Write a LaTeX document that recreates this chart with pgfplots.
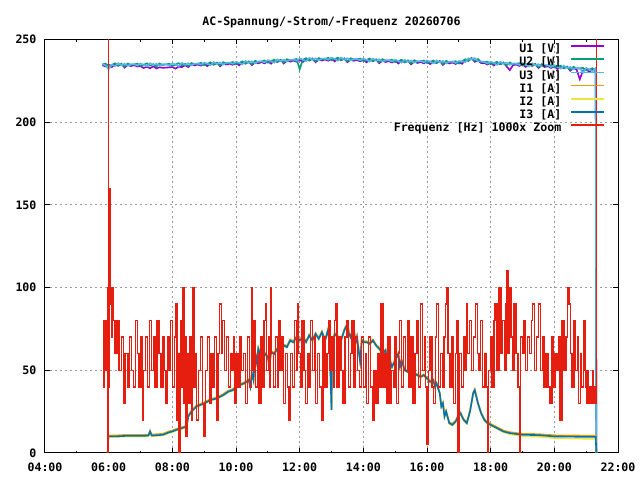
\documentclass[border=0pt]{standalone}
\usepackage{fontspec}
\setmainfont{DejaVu Sans Mono}
\setmonofont{DejaVu Sans Mono}
\usepackage{pgfplots}
\usepackage{pgfplotstable}
\pgfplotsset{compat=1.18}
\definecolor{cU1}{HTML}{9400D3}
\definecolor{cU2}{HTML}{009E73}
\definecolor{cU3}{HTML}{56B4E9}
\definecolor{cI1}{HTML}{E69F00}
\definecolor{cI2}{HTML}{F0E442}
\definecolor{cI3}{HTML}{0072B2}
\definecolor{cF}{HTML}{E51E10}
\newcommand{\fsz}{\fontsize{8.7}{10}\selectfont\bfseries}

\pgfplotstableread{
t U1 U2 U3
5.8 234.5 234.9 235.1
5.9 233.7 235.4 234.3
6.0 234.8 234.0 232.0
6.1 233.3 234.7 234.8
6.2 235.0 235.6 233.8
6.3 234.1 234.2 235.7
6.4 235.3 235.1 234.5
6.5 233.0 233.6 235.3
6.6 234.7 235.5 234.1
6.7 233.9 234.6 235.0
6.8 234.5 234.9 235.1
6.9 233.7 235.4 234.3
7.0 233.8 234.0 235.5
7.1 232.8 234.7 234.8
7.2 233.5 235.6 233.8
7.3 232.6 234.2 235.7
7.4 233.8 235.1 234.5
7.5 232.5 233.6 235.3
7.6 233.2 235.5 234.1
7.7 232.9 234.6 235.0
7.8 233.0 234.9 235.1
7.9 233.2 235.4 234.3
8.0 233.3 234.0 235.5
8.1 232.4 234.8 234.9
8.2 233.6 235.7 233.9
8.3 233.3 234.4 235.9
8.4 234.5 235.3 234.7
8.5 233.3 233.9 235.6
8.6 235.0 235.8 234.4
8.7 234.3 235.0 235.4
8.8 234.9 235.3 235.5
8.9 234.2 235.9 234.8
9.0 235.3 234.5 236.0
9.1 233.9 235.3 235.4
9.2 235.6 236.2 234.4
9.3 234.8 234.9 236.4
9.4 236.0 235.8 235.2
9.5 233.8 234.4 236.1
9.6 235.5 236.3 234.9
9.7 234.8 235.5 235.9
9.8 235.4 235.8 236.0
9.9 234.7 236.4 235.3
10.0 235.8 235.0 236.5
10.1 234.4 235.8 235.9
10.2 236.2 236.8 235.0
10.3 235.4 235.5 237.0
10.4 236.7 236.5 235.9
10.5 234.5 235.1 236.8
10.6 236.3 237.1 235.7
10.7 235.6 236.3 236.7
10.8 236.3 236.7 236.9
10.9 235.6 237.3 236.2
11.0 236.8 236.0 237.5
11.1 235.4 236.8 236.9
11.2 237.2 237.8 236.0
11.3 236.4 236.5 238.0
11.4 237.7 237.5 236.9
11.5 235.5 236.1 237.8
11.6 237.3 238.1 236.7
11.7 236.6 237.3 237.7
11.8 237.3 237.7 237.9
11.9 236.6 238.3 237.2
12.0 237.8 232.0 238.5
12.1 236.4 237.8 237.9
12.2 238.1 238.7 236.9
12.3 237.3 237.4 238.9
12.4 238.5 238.3 237.7
12.5 236.3 236.9 238.6
12.6 238.0 238.8 237.4
12.7 237.3 237.9 238.4
12.8 237.9 238.3 238.5
12.9 237.2 238.9 237.8
13.0 238.3 237.5 239.0
13.1 236.8 238.2 238.3
13.2 238.4 239.0 237.2
13.3 237.5 237.6 239.1
13.4 238.6 238.4 237.8
13.5 236.3 236.9 238.6
13.6 237.9 238.7 237.3
13.7 237.1 237.8 238.2
13.8 237.6 238.0 238.2
13.9 236.8 238.5 237.4
14.0 237.8 237.0 238.5
14.1 236.2 237.6 237.7
14.2 237.9 238.5 236.7
14.3 236.9 237.0 238.5
14.4 238.0 237.8 237.2
14.5 235.7 236.3 238.0
14.6 237.3 238.1 236.7
14.7 236.4 237.1 237.5
14.8 236.9 237.3 237.5
14.9 236.1 237.8 236.7
15.0 237.1 236.3 237.8
15.1 235.5 236.9 237.0
15.2 237.2 237.8 236.0
15.3 236.2 236.3 237.8
15.4 237.3 237.1 236.5
15.5 235.0 235.6 237.3
15.6 236.7 237.5 236.1
15.7 235.8 236.5 236.9
15.8 236.4 236.8 237.0
15.9 235.6 237.3 236.2
16.0 236.6 235.8 237.3
16.1 235.1 236.5 236.6
16.2 236.7 237.3 235.5
16.3 235.8 235.9 237.4
16.4 237.0 236.8 236.2
16.5 234.7 235.3 237.0
16.6 236.3 237.1 235.7
16.7 235.5 236.2 236.6
16.8 236.1 236.5 236.7
16.9 235.2 236.9 235.8
17.0 236.3 235.5 237.0
17.1 235.3 236.7 236.8
17.2 237.5 238.1 236.3
17.3 237.1 237.2 238.7
17.4 238.8 238.6 238.0
17.5 236.5 237.1 238.8
17.6 237.4 238.2 236.8
17.7 235.7 236.4 236.8
17.8 235.8 236.2 236.4
17.9 234.9 236.6 235.5
18.0 235.9 235.1 236.6
18.1 234.3 235.7 235.8
18.2 235.9 236.5 234.7
18.3 235.0 235.1 236.6
18.4 236.1 235.9 235.3
18.5 233.7 234.3 236.0
18.6 231.5 236.1 234.7
18.7 234.4 235.1 235.5
18.8 234.9 235.3 235.5
18.9 234.0 235.7 234.6
19.0 235.0 234.2 235.7
19.1 233.4 234.8 234.9
19.2 235.0 235.6 233.8
19.3 234.0 234.1 235.6
19.4 235.2 235.0 234.4
19.5 232.8 233.4 235.1
19.6 234.3 235.1 233.7
19.7 233.4 234.1 234.5
19.8 233.8 234.2 234.4
19.9 232.8 234.5 233.4
20.0 233.8 233.0 234.5
20.1 232.1 233.5 233.6
20.2 233.6 234.2 232.4
20.3 232.6 232.7 234.2
20.4 233.6 233.4 232.8
20.5 231.1 231.7 233.4
20.6 232.7 233.5 232.1
20.7 231.7 232.4 232.8
20.8 226.0 232.5 232.7
20.9 231.2 232.9 230.0
21.0 232.1 231.3 232.8
21.1 230.4 231.8 231.9
21.2 232.0 232.6 230.8
21.3 230.7 231.2 232.7
21.32 0 0 0
}\volt

\pgfplotstableread{
t I1 I2 I3
5.97 0 0 0
5.99 10.6 9.6 10.0
6.2 10.6 9.6 10.0
6.5 10.9 9.9 10.3
7.0 10.9 9.9 10.3
7.25 11.1 10.1 10.5
7.3 13.4 12.6 13.0
7.35 11.1 10.1 10.5
7.7 11.6 10.6 11.0
7.9 13.1 12.1 12.5
8.0 13.6 12.6 13.0
8.2 15.1 14.1 14.5
8.3 15.6 14.6 15.0
8.45 16.6 15.6 16.0
8.5 22.6 21.6 22.0
8.6 25.6 24.6 25.0
8.75 28.6 27.6 28.0
9.0 30.6 29.6 30.0
9.2 32.6 31.6 32.0
9.4 33.6 32.6 33.0
9.6 35.6 34.6 35.0
9.75 37.6 36.6 37.0
9.9 38.6 37.6 38.0
10.0 40.6 39.6 40.0
10.1 41.6 40.6 41.0
10.25 42.6 41.6 42.0
10.4 44.6 43.6 44.0
10.45 41.0 39.6 40.0
10.5 48.6 47.6 48.0
10.55 44.6 43.6 44.0
10.6 60.6 59.6 60.0
10.65 55.6 54.6 55.0
10.7 63.6 62.6 63.0
10.8 57.6 56.6 57.0
10.9 60.6 59.6 60.0
11.0 58.6 57.6 58.0
11.05 53.0 51.6 52.0
11.1 61.6 60.6 61.0
11.2 60.6 59.6 60.0
11.3 63.6 62.6 63.0
11.4 64.6 63.6 64.0
11.5 65.6 64.6 65.0
11.6 64.6 63.6 64.0
11.7 68.6 67.6 68.0
11.8 67.6 66.6 67.0
11.9 70.6 69.6 70.0
12.0 68.6 67.6 68.0
12.1 70.6 69.6 70.0
12.2 67.6 66.6 67.0
12.3 71.6 70.6 71.0
12.4 68.6 67.6 68.0
12.5 72.6 71.6 72.0
12.6 69.6 68.6 69.0
12.7 73.6 72.6 73.0
12.8 68.6 67.6 68.0
12.9 75.6 74.6 75.0
12.95 61.0 59.6 60.0
13.0 28.0 26.0 26.0
13.02 65.6 64.6 65.0
13.1 72.6 71.6 72.0
13.2 70.6 69.6 70.0
13.3 68.6 67.6 68.0
13.4 74.6 73.6 74.0
13.5 78.6 77.6 78.0
13.55 72.6 71.6 72.0
13.6 70.6 69.6 70.0
13.7 76.6 75.6 76.0
13.75 66.6 65.6 66.0
13.8 70.6 69.6 70.0
13.9 56.0 54.6 55.0
13.95 68.6 67.6 68.0
14.0 67.6 66.6 67.0
14.1 67.6 66.6 67.0
14.2 66.6 65.6 66.0
14.3 68.6 67.6 68.0
14.4 65.6 64.6 65.0
14.5 63.6 62.6 63.0
14.6 60.6 59.6 60.0
14.7 62.6 61.6 62.0
14.75 55.6 54.6 55.0
14.8 58.6 57.6 58.0
14.9 52.6 51.6 52.0
15.0 56.6 55.6 56.0
15.1 60.6 59.6 60.0
15.15 52.6 51.6 52.0
15.2 56.6 55.6 56.0
15.3 50.6 49.6 50.0
15.4 49.6 48.6 49.0
15.5 51.6 50.6 51.0
15.6 48.6 47.6 48.0
15.7 47.6 46.6 47.0
15.8 46.6 45.6 46.0
15.9 47.6 46.6 47.0
16.0 45.6 44.6 45.0
16.1 43.6 42.6 43.0
16.2 44.6 43.6 44.0
16.25 40.6 39.6 40.0
16.3 42.6 41.6 42.0
16.4 36.6 35.6 36.0
16.45 28.6 27.6 28.0
16.5 30.6 29.6 30.0
16.55 22.6 21.6 22.0
16.6 25.6 24.6 25.0
16.7 18.6 17.6 18.0
16.8 17.6 16.6 17.0
16.9 19.6 18.6 19.0
17.0 23.6 22.6 23.0
17.05 24.6 23.6 24.0
17.15 20.6 19.6 20.0
17.25 18.6 17.6 18.0
17.35 25.6 24.6 25.0
17.45 36.6 35.6 36.0
17.5 38.6 37.6 38.0
17.55 34.6 33.6 34.0
17.6 30.6 29.6 30.0
17.7 24.6 23.6 24.0
17.8 20.6 19.6 20.0
17.9 18.6 17.6 18.0
18.0 17.6 16.6 17.0
18.2 15.6 14.6 15.0
18.4 13.6 12.6 13.0
18.6 12.6 11.4 12.0
18.8 12.1 10.8 11.5
19.0 11.6 10.2 11.0
19.5 11.4 9.8 10.8
20.0 10.7 9.0 10.0
20.5 10.6 8.8 9.9
21.0 10.5 8.6 9.7
21.3 10.5 8.6 9.7
21.32 0 0 0
}\curr

\begin{document}
\begin{tikzpicture}[x=1pt,y=1pt]
\useasboundingbox (-33.75,-20.25) rectangle (446.25,339.75);
\begin{axis}[
  at={(0,0)}, anchor=south west,
  scale only axis, width=429.75pt, height=310.1pt,
  xmin=4, xmax=22, ymin=0, ymax=250,
  xtick={4,6,...,22},
  xticklabels={04:00,06:00,08:00,10:00,12:00,14:00,16:00,18:00,20:00,22:00},
  minor xtick={5,7,...,21},
  ytick={0,50,...,250},
  grid=major,
  major grid style={color=black!40, line width=0.75pt, dash pattern=on 1.5pt off 2.25pt},
  axis line style={line width=0.75pt},
  tick style={black, line width=0.75pt},
  major tick length=3.4pt, minor tick length=1.8pt,
  tick label style={font=\fsz},
  /pgf/number format/assume math mode=true,
  xticklabel style={anchor=north, inner sep=0pt, yshift=-7.3pt},
  yticklabel style={anchor=east, inner sep=0pt, xshift=-6.2pt},
  legend plot pos=right,
  legend cell align=right,
  legend style={at={(0.9773,0.9906)}, anchor=north east, draw=none, fill=none,
    inner sep=0pt, outer sep=0pt, font=\fsz, row sep=0pt, column sep=6.75pt,
    nodes={inner sep=0pt, text height=7pt, text depth=2.9pt}},
  legend image code/.code={\draw[#1] (0pt,3pt) -- (24.75pt,3pt);},
  every axis plot/.append style={line width=1.2pt},
]
\addplot[cU1, no marks] table[x=t, y=U1] {\volt};
\addlegendentry{U1 [V]}
\addplot[cU2, no marks] table[x=t, y=U2] {\volt};
\addlegendentry{U2 [W]}
\addplot[cU3, no marks] table[x=t, y=U3] {\volt};
\addlegendentry{U3 [W]}
\addplot[cI1, no marks] table[x=t, y=I1] {\curr};
\addlegendentry{I1 [A]}
\addplot[cI2, no marks] table[x=t, y=I2] {\curr};
\addlegendentry{I2 [A]}
\addplot[cI3, no marks] table[x=t, y=I3] {\curr};
\addlegendentry{I3 [A]}
\addplot[cF, no marks, const plot, line width=1.1pt] coordinates {
(5.83,40)(5.86,80)(5.90,50)(5.94,80)(5.96,100)(5.98,-1000)(5.99,1000)(6.00,40)(6.01,80)(6.03,160)(6.05,90)(6.07,100)(6.10,70)(6.12,100)(6.15,80)(6.20,60)(6.26,80)(6.32,50)(6.40,70)(6.46,30)(6.52,60)(6.60,40)(6.66,70)(6.72,50)(6.78,40)(6.84,80)(6.90,60)(6.96,40)
(7.02,70)(7.06,20)(7.10,50)(7.16,70)(7.22,40)(7.28,80)(7.34,50)(7.40,70)(7.46,40)(7.52,80)(7.58,60)(7.64,40)(7.70,70)(7.76,50)(7.80,30)(7.84,70)(7.90,50)(7.94,80)
(8.00,40)(8.06,70)(8.10,90)(8.14,20)(8.18,60)(8.21,0)(8.25,80)(8.30,40)(8.33,100)(8.36,30)(8.40,70)(8.43,10)(8.47,60)(8.52,30)(8.56,70)(8.60,20)(8.64,100)(8.68,40)(8.72,60)(8.76,20)(8.82,50)(8.88,70)(8.94,30)
(9.00,10)(9.05,50)(9.10,70)(9.16,30)(9.22,60)(9.28,40)(9.33,70)(9.38,20)(9.44,60)(9.48,90)(9.54,60)(9.58,80)(9.64,50)(9.70,70)(9.76,40)(9.82,60)(9.88,50)(9.92,70)(9.96,30)
(10.00,60)(10.06,40)(10.12,70)(10.18,50)(10.24,60)(10.30,30)(10.36,70)(10.42,40)(10.48,100)(10.52,50)(10.56,80)(10.62,40)(10.68,60)(10.72,30)(10.78,70)(10.84,40)(10.88,80)(10.92,90)(10.96,50)
(11.02,70)(11.06,40)(11.08,100)(11.12,60)(11.18,40)(11.24,70)(11.30,40)(11.34,80)(11.38,50)(11.44,70)(11.50,30)(11.56,60)(11.62,40)(11.66,20)(11.72,60)(11.78,40)(11.84,80)(11.90,50)(11.93,90)(11.97,60)
(12.02,40)(12.08,80)(12.14,50)(12.18,30)(12.24,60)(12.30,40)(12.34,80)(12.40,50)(12.46,70)(12.50,30)(12.56,60)(12.62,40)(12.68,20)(12.74,70)(12.80,40)(12.86,60)(12.90,80)(12.96,50)
(13.02,70)(13.06,40)(13.10,80)(13.13,90)(13.18,40)(13.24,70)(13.30,50)(13.36,30)(13.42,70)(13.48,80)(13.54,40)(13.60,60)(13.65,80)(13.70,40)(13.76,70)(13.82,50)(13.88,40)(13.94,70)
(14.00,40)(14.06,60)(14.10,30)(14.16,70)(14.22,40)(14.28,20)(14.34,50)(14.40,30)(14.46,60)(14.52,40)(14.56,90)(14.62,40)(14.68,60)(14.72,30)(14.78,70)(14.84,30)(14.88,50)(14.94,40)
(15.00,70)(15.04,30)(15.10,60)(15.14,80)(15.20,40)(15.26,70)(15.32,50)(15.38,80)(15.44,40)(15.50,70)(15.56,30)(15.62,60)(15.68,80)(15.74,40)(15.80,90)(15.86,50)(15.92,70)(15.96,40)
(16.00,5)(16.04,50)(16.10,70)(16.16,40)(16.20,30)(16.26,70)(16.30,90)(16.36,40)(16.42,60)(16.48,40)(16.54,70)(16.58,90)(16.62,100)(16.66,60)(16.72,40)(16.78,70)(16.84,30)(16.90,60)(16.94,80)(16.98,0)
(17.02,60)(17.08,40)(17.14,70)(17.20,50)(17.24,90)(17.28,60)(17.34,80)(17.40,50)(17.46,70)(17.52,90)(17.58,60)(17.64,50)(17.68,80)(17.74,40)(17.80,60)(17.86,40)(17.90,0)(17.94,50)
(18.00,70)(18.04,40)(18.10,80)(18.14,90)(18.20,50)(18.26,100)(18.32,60)(18.38,80)(18.44,50)(18.48,90)(18.50,110)(18.54,60)(18.58,100)(18.64,70)(18.70,50)(18.74,90)(18.80,60)(18.86,40)(18.90,0)(18.94,70)
(19.00,60)(19.04,80)(19.10,50)(19.16,70)(19.22,60)(19.28,80)(19.32,90)(19.38,50)(19.44,70)(19.50,90)(19.56,50)(19.62,70)(19.68,40)(19.74,60)(19.80,40)(19.86,30)(19.92,70)(19.96,40)
(20.02,60)(20.08,50)(20.14,70)(20.18,20)(20.24,80)(20.30,50)(20.36,70)(20.42,100)(20.46,90)(20.50,60)(20.56,40)(20.62,80)(20.66,50)(20.72,70)(20.76,30)(20.82,60)(20.86,40)(20.92,80)(20.96,50)
(21.00,40)(21.03,30)(21.06,50)(21.08,30)(21.10,40)(21.12,30)(21.15,40)(21.18,30)(21.20,50)(21.22,30)(21.24,40)(21.26,30)(21.28,40)(21.30,30)(21.32,40)(21.33,1000)(21.34,1000)
};
\addlegendentry{Frequenz [Hz] 1000x Zoom}
\end{axis}
\node[anchor=base, font=\fsz] at (214.875,321) {AC-Spannung/-Strom/-Frequenz 20260706};
\end{tikzpicture}
\end{document}
